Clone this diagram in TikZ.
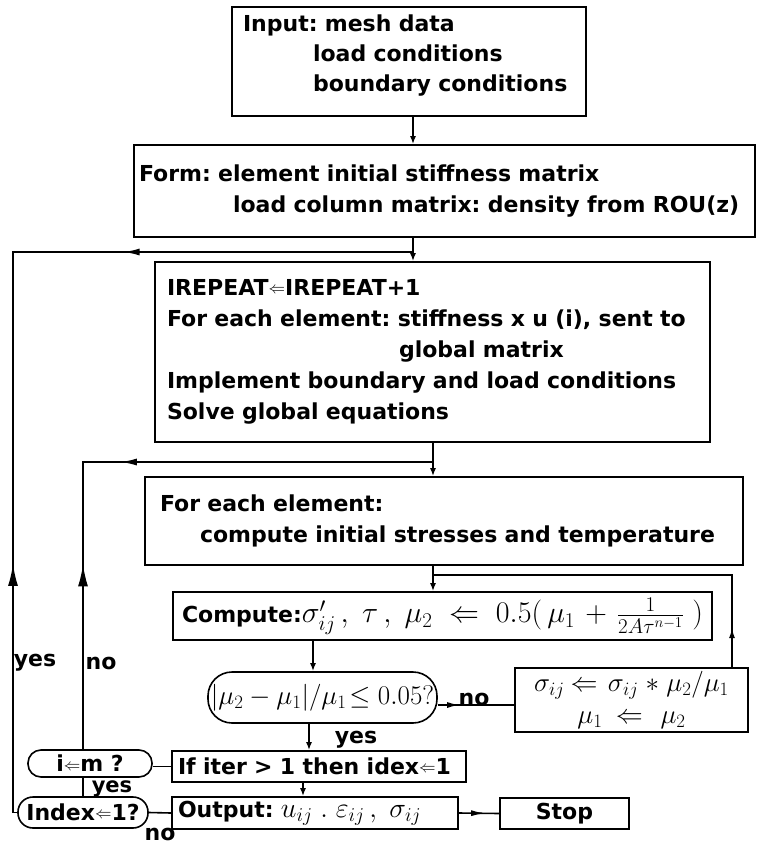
\RequirePackage{fix-cm}
\documentclass[tikz,border=0pt]{standalone}
\usepackage{fontspec}
\setsansfont{DejaVu Sans}
\usepackage{graphicx}
\usetikzlibrary{arrows.meta,shapes.geometric,decorations.markings,calc}
\newcommand{\lar}{\raisebox{0.08em}{\scalebox{0.75}{$\Leftarrow$}}}
\newcommand{\mth}[2]{{\fontsize{#1}{31}\selectfont$#2$}}
\newcommand{\dstrut}[1]{\rule[-#1]{0pt}{#1}}
\begin{document}
\begin{tikzpicture}[x=1pt,y=-1pt,
  every node/.style={font=\fontsize{22}{31}\selectfont\sffamily\bfseries\frenchspacing},
  box/.style={draw, line width=1.6pt, rectangle, inner ysep=0pt, align=left},
  oval/.style={draw, line width=1.6pt, rectangle, inner sep=0pt, align=center},
  ln/.style={line width=1.6pt},
  arr/.style={ln, -{Latex[length=8pt,width=6pt]}},
  mk/.style n args={3}{ln, postaction={decorate}, decoration={markings, mark=at position #1 with {\arrow{Latex[length=#2pt,width=#3pt]}}}},
  mk2/.style n args={2}{ln, postaction={decorate}, decoration={markings,
      mark=at position #1 with {\arrow{Latex[length=22pt,width=10pt]}},
      mark=at position #2 with {\arrowreversed{Latex[length=16pt,width=7pt]}}}},
  lbl/.style={inner sep=0pt}
]
\useasboundingbox (0,0) rectangle (763,844);

% boxes
\node[box, minimum width=354pt, minimum height=109pt, text width=332pt, inner xsep=11pt,
      font=\fontsize{22}{30}\selectfont\sffamily\bfseries\frenchspacing] (input) at (409,61.5)
  {Input: mesh data\\\hspace*{70pt}load conditions\\\hspace*{70pt}boundary conditions\dstrut{16pt}};
\node[box, minimum width=621pt, minimum height=92pt, text width=611pt, inner xsep=5pt] (form) at (444.5,191)
  {Form: element initial stiffness matrix\\\hspace*{94pt}load column matrix: density from ROU(z)};
\node[box, minimum width=555pt, minimum height=180pt, text width=531pt, inner xsep=12pt] (irep) at (432.5,352)
  {IREPEAT\lar IREPEAT+1\\\mbox{For each element: stiffness x u (i), sent to}\\\hspace*{232pt}global matrix\\Implement boundary and load conditions\\Solve global equations};
\node[box, minimum width=598pt, minimum height=88pt, text width=568pt, inner xsep=15pt] (foreach) at (444,521)
  {For each element:\\\hspace*{40pt}compute initial stresses and temperature};
\node[box, minimum width=539pt, minimum height=48pt, text width=521pt, inner xsep=9pt] (compute) at (442.5,616)
  {Compute:\mth{30}{\sigma'_{ij}\,,\; \tau\,,\; \mu_2 \;\Leftarrow\; 0.5(\,\mu_1 \,+\, {\textstyle\frac{1}{2A\tau^{n-1}}}\;)}};
\node[oval, rounded corners=24pt, minimum width=229pt, minimum height=51pt] (dec) at (322.5,697.5)
  {\mth{27}{|\mu_2 - \mu_1|/\mu_1\!\leq 0.05?}};
\node[box, minimum width=233pt, minimum height=64pt, text width=229pt, inner xsep=2pt, align=center,
      font=\fontsize{22}{32}\selectfont\sffamily\bfseries] (sigma) at (631.5,700)
  {\mth{27}{\sigma_{ij}\!\Leftarrow\sigma_{ij}*\mu_2/\mu_1}\\\mth{27}{\mu_1\!\Leftarrow\mu_2}};
\node[box, minimum width=294pt, minimum height=31pt, text width=282pt, inner xsep=6pt] (ifiter) at (319,766.5)
  {If iter > 1 then idex\lar 1};
\node[oval, rounded corners=13pt, minimum width=124pt, minimum height=27pt] (imq) at (90,763.5)
  {i\lar m ?};
\node[box, minimum width=286pt, minimum height=32pt, text width=274pt, inner xsep=6pt] (output) at (315,813)
  {Output: \mth{28}{u_{ij}\;.\;\varepsilon_{ij}\,,\;\sigma_{ij}}};
\node[oval, rounded corners=15pt, minimum width=130pt, minimum height=31pt] (index) at (83,812.5)
  {Index\lar 1?};
\node[box, minimum width=129pt, minimum height=31pt, align=center] (stop) at (564.5,813.5)
  {Stop};

% labels
\node[lbl] (yes1) at (35,663) {yes};
\node[lbl] (no1) at (101,663) {no};
\node[lbl] (yes2) at (356,740) {yes};
\node[lbl] (no2) at (474,699) {no};
\node[lbl, font=\fontsize{21}{24}\selectfont\sffamily\bfseries] (yes3) at (112,789) {yes};
\node[lbl] (no3) at (160,834) {no};

% coordinates
\coordinate (lx) at (13,252);
\coordinate (j1) at (413,252);
\coordinate (lx2) at (83,462);
\coordinate (j2) at (433,462);
\coordinate (rx) at (732,575);
\coordinate (vx) at (313,656);
\coordinate (vy) at (309,737);
\coordinate (vz) at (303,790);
\coordinate (ny) at (0,705);

% connectors
\draw[arr] (input.south -| j1) -- (form.north -| j1);
\draw[arr] (form.south -| j1) -- (irep.north -| j1);
\draw[mk2={0.262}{0.70}] (index.west) -- (index.west -| lx) -- (lx) -- (j1);
\draw[mk2={0.29}{0.51}] (imq.north -| lx2) -- (lx2) -- (j2);
\draw[arr] (irep.south -| j2) -- (foreach.north -| j2);
\draw[arr] (foreach.south -| j2) -- (compute.north -| j2);
\draw[mk={0.1}{10}{6}] (sigma.north -| rx) -- (rx) -- (rx -| j2);
\draw[arr] (compute.south -| vx) -- (dec.north -| vx);
\draw[arr] (dec.south -| vy) -- (ifiter.north -| vy);
\draw[arr] (ifiter.south -| vz) -- (output.north -| vz);
\draw[mk={0.28}{12}{6}] (dec.east |- ny) -- (sigma.west |- ny);
\draw[ln] (ifiter.west) -- (ifiter.west -| imq.east);
\draw[ln] (imq.south -| lx2) -- (index.north -| lx2);
\draw[ln] (output.west) -- (index.east);
\draw[mk={0.65}{14}{6}] (output.east) -- (stop.west);
\end{tikzpicture}
\end{document}
